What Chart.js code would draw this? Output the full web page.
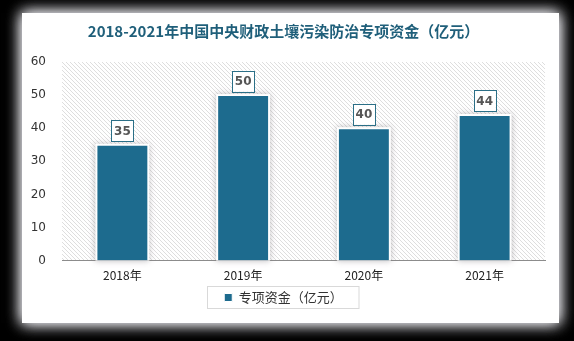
<!DOCTYPE html>
<html>
<head>
<meta charset="utf-8">
<script src="https://cdn.jsdelivr.net/npm/chart.js@4"></script>
<style>
  html, body { margin: 0; padding: 0; background: #000; }
  #c { display: block; }
</style>
</head>
<body>
<canvas id="c" width="574" height="341"></canvas>
<script>
// chart data
const years = ['2018年', '2019年', '2020年', '2021年'];
const funds = [35, 50, 40, 44];
const yTicks = [0, 10, 20, 30, 40, 50, 60];
const seriesName = '专项资金（亿元）';
const titleText = '2018-2021年中国中央财政土壤污染防治专项资金（亿元）';

const barColor = '#1d6b8e';

// diagonal hatch for the plot background
function makeHatch(ctx) {
    const p = document.createElement('canvas');
    p.width = 4; p.height = 4;
    const pc = p.getContext('2d');
    pc.fillStyle = '#fff';
    pc.fillRect(0, 0, 4, 4);
    pc.strokeStyle = '#dedede';
    pc.lineWidth = 1;
    pc.beginPath();
    pc.moveTo(0, 0); pc.lineTo(4, 4);
    pc.moveTo(-1, 3); pc.lineTo(1, 5);
    pc.moveTo(3, -1); pc.lineTo(5, 1);
    pc.stroke();
    return ctx.createPattern(p, 'repeat');
}

const backPlugin = {
    id: 'back',
    beforeDraw(chart) {
        const { ctx, chartArea: a } = chart;
        ctx.save();
        // black page with a white card
        ctx.fillStyle = '#000';
        ctx.fillRect(0, 0, chart.width, chart.height);
        ctx.shadowColor = 'rgba(235,235,240,1)';
        ctx.shadowBlur = 14;
        ctx.fillStyle = '#fff';
        ctx.fillRect(22, 13, 537, 310);
        ctx.fillRect(22, 13, 537, 310);
        ctx.shadowBlur = 0;
        ctx.fillStyle = makeHatch(ctx);
        ctx.fillRect(a.left, a.top, a.right - a.left, a.bottom - a.top);
        ctx.restore();
    },
    beforeDatasetsDraw(chart) {
        // soft shadow behind bars
        const { ctx } = chart;
        ctx.save();
        chart.getDatasetMeta(0).data.forEach(bar => {
            const w = bar.width;
            ctx.shadowColor = 'rgba(120,110,120,0.45)';
            ctx.shadowBlur = 6;
            ctx.fillStyle = '#fff';
            ctx.fillRect(bar.x - w / 2 - 1, bar.y - 1, w + 2, bar.base - bar.y + 1);
        });
        ctx.restore();
    }
};

const labelPlugin = {
    id: 'valueBoxes',
    afterDatasetsDraw(chart) {
        const { ctx } = chart;
        ctx.save();
        ctx.font = 'bold 12px "DejaVu Sans", sans-serif';
        ctx.textAlign = 'center';
        ctx.textBaseline = 'middle';
        chart.getDatasetMeta(0).data.forEach((bar, i) => {
            const cy = bar.y - 14;
            const bw = 22, bh = 21;
            ctx.fillStyle = '#fff';
            ctx.fillRect(bar.x - bw / 2, cy - bh / 2, bw, bh);
            ctx.strokeStyle = '#2b6f87';
            ctx.lineWidth = 1;
            ctx.strokeRect(Math.round(bar.x - bw / 2) + 0.5, Math.round(cy - bh / 2) + 0.5, bw, bh);
            ctx.fillStyle = '#555';
            ctx.fillText(String(funds[i]), bar.x, cy + 1);
        });
        ctx.restore();
    },
    afterDraw(chart) {
        // frame round the legend
        const lg = chart.legend;
        if (!lg || !lg.legendHitBoxes.length) return;
        const hb = lg.legendHitBoxes[0];
        const { ctx } = chart;
        ctx.save();
        ctx.strokeStyle = '#d9d9d9';
        ctx.lineWidth = 1;
        ctx.strokeRect(Math.round(hb.left) - 16.5, Math.round(hb.top) - 4.5, hb.width + 33, hb.height + 9);
        ctx.restore();
    }
};

new Chart(document.getElementById('c').getContext('2d'), {
    type: 'bar',
    data: {
        labels: years,
        datasets: [{
            label: seriesName,
            data: funds,
            backgroundColor: barColor,
            borderColor: '#ffffff',
            borderWidth: 1,
            barPercentage: 0.86,
            categoryPercentage: 0.5
        }]
    },
    options: {
        responsive: false,
        animation: false,
        layout: { padding: { left: 22, right: 29, top: 16, bottom: 27 } },
        plugins: {
            title: {
                display: true,
                text: titleText,
                color: '#1f5f7a',
                font: { family: '"Noto Sans CJK SC", sans-serif', size: 15, weight: 'bold' },
                padding: { top: 6, bottom: 22 }
            },
            legend: {
                position: 'bottom',
                labels: {
                    boxWidth: 8, boxHeight: 8, color: '#333', padding: 8,
                    font: { family: '"Noto Sans CJK SC", sans-serif', size: 13 }
                }
            },
            tooltip: { enabled: false }
        },
        scales: {
            x: {
                grid: { display: false },
                border: { display: true, color: '#8c8c8c', width: 1 },
                ticks: { color: '#222', font: { family: '"Noto Sans CJK SC", sans-serif', size: 12 }, padding: 0 }
            },
            y: {
                min: 0, max: 60,
                afterBuildTicks(axis) { axis.ticks = yTicks.map(v => ({ value: v })); },
                afterFit(axis) { axis.width = 40; },
                grid: { display: false, drawTicks: false },
                border: { display: false },
                ticks: { color: '#333', font: { family: '"DejaVu Sans", sans-serif', size: 12 }, padding: 16 }
            }
        }
    },
    plugins: [backPlugin, labelPlugin]
});
</script>
</body>
</html>
